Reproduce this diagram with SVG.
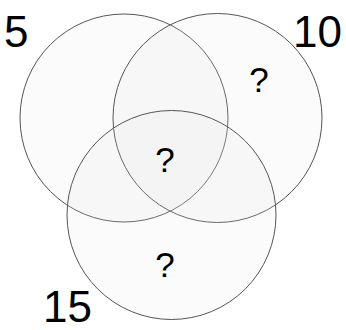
<svg xmlns="http://www.w3.org/2000/svg" width="346" height="330" viewBox="0 0 346 330">
<style>
.c{fill:#e4e4e4;fill-opacity:0.15;stroke:#555;stroke-width:1}
.n{font-family:"Liberation Sans",Arial,sans-serif;font-size:44px;fill:#000}
.q{font-family:"Liberation Sans",Arial,sans-serif;font-size:35px;fill:#000;text-anchor:middle}
</style>
<rect width="346" height="330" fill="#fff"/>
<g id="set5"><circle class="c" cx="124" cy="118" r="104"/></g>
<g id="set10"><circle class="c" cx="217.5" cy="118" r="104.5"/></g>
<g id="set15"><circle class="c" cx="171.5" cy="215" r="104.5"/></g>
<g id="labels">
<text class="n" x="4" y="47">5</text>
<text class="n" x="293" y="47">10</text>
<text class="n" x="43" y="322">15</text>
<text class="q" x="259" y="92">?</text>
<text class="q" x="165" y="172">?</text>
<text class="q" x="165" y="277">?</text>
</g>
</svg>
